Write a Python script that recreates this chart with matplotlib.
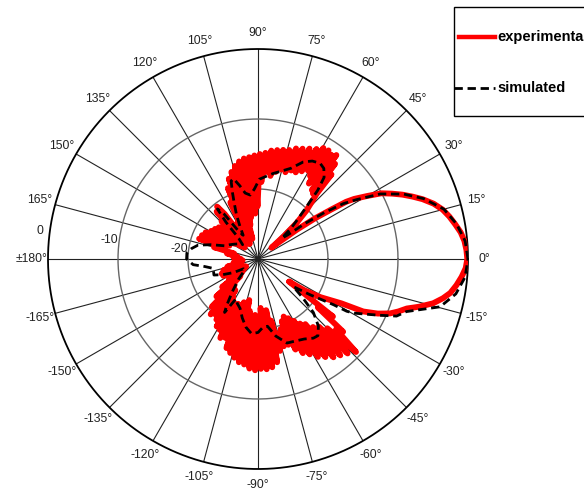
import numpy as np
import matplotlib
matplotlib.use('Agg')
import matplotlib.pyplot as plt
from matplotlib.lines import Line2D
from matplotlib.patches import Rectangle

# Diagramme de rayonnement (dB) : mesure vs simulation
sim_deg = [0, 5, 10, 15, 20, 24, 28, 31, 33, 35, 37, 39, 41, 43, 45, 47, 49, 51, 54, 57,
           61, 65, 70, 75, 80, 85, 89, 93, 97, 101, 104, 107, 109, 111, 113, 116, 119, 122,
           125, 127, 129, 131, 133, 137, 142, 148, 153, 158, 163, 167, 171, 175, 180, 185,
           188, 192, 196, 200, 204, 209, 214, 220, 226, 232, 236, 238, 241, 245, 250, 255,
           260, 265, 270, 274, 278, 283, 289, 295, 300, 305, 308, 312, 316, 319, 322, 325.5,
           328.8, 329.5, 330.5, 332.5, 335, 337.6, 340.5, 345.3, 350, 355, 360]
sim_db = [0, -0.3, -1.2, -2.5, -4.8, -7.2, -10.2, -13.5, -15.5, -18.5, -21.5, -24.5, -25.5,
          -23.5, -22, -20, -17, -15, -14, -13.7, -14, -14.7, -16.2, -17, -17.6, -18.2, -18.6,
          -20, -20.8, -20.4, -19.2, -18, -18.2, -19.8, -21.3, -23, -24.7, -26, -25, -22, -20.8,
          -23, -26, -27, -26.5, -26, -25.5, -25, -23, -21.2, -20.4, -19.8, -19.8, -20.7, -22.3,
          -23.5, -23.4, -23.3, -24.5, -26, -27.5, -27.5, -26, -24, -22, -21, -23.5, -23, -22.5,
          -21.3, -20.1, -19.3, -19.5, -20.2, -20.3, -18.7, -17.3, -17.1, -16.8, -16.2, -16.1,
          -17.1, -19, -21.5, -23.6, -21, -17.4, -15.3, -14.3, -13, -11, -8.6, -7.5, -3.1, -1.3,
          -0.3, 0]

exp_deg = [-36, -34, -31.5, -29.5, -28, -26.5, -24.5, -22.4, -20.5, -18.4, -16.5, -14.2, -12,
           -10, -7.5, -5, -2.5, 0, 2.5, 5, 7.5, 10, 12.5, 15, 17.5, 20, 22, 24, 26, 28, 30, 32,
           33, 34, 35.5, 37, 38.5, 40, 41.5, 43, 45, 46.5, 48, 49, 50, 51, 52, 53, 54, 55, 56,
           57, 58, 59.5, 60.5, 62, 63.5, 65, 66.5, 68, 69.5, 71, 72.5, 74, 75.5, 77, 78.5, 80,
           81.5, 83, 84.5, 86, 87.5, 89, 90.5, 92, 93.5, 95, 96.5, 98, 99.5, 101, 102.5, 104,
           105.5, 107, 108.5, 110, 111.5, 113, 114.5, 116, 117.5, 119, 121, 123, 125, 126.5,
           128, 129.5, 131, 132.5, 134, 135.5, 137, 139, 141, 143, 145, 147, 149, 151, 153, 155,
           157, 159, 161, 163, 165, 167, 170, 173, 176, 179, 182, 185, 188, 191, 194, 196, 198,
           200, 202, 204, 206, 208, 210, 212, 214, 216, 218, 220, 222, 224, 226, 228, 229.5,
           231, 232.5, 234, 235.5, 237, 238.5, 240, 241.5, 243, 244.5, 246, 247.5, 249, 250.5,
           252, 253.5, 255, 256.5, 258, 259.5, 261, 262.5, 264, 265.5, 267, 268.5, 270, 271.5,
           273, 274.5, 276, 277.5, 279, 280.5, 282, 283.5, 285, 286.5, 288, 289.5, 291, 292.5,
           294, 295.5, 297, 298.5, 300, 301.5, 303, 304.5, 306, 307.5, 309, 310.5, 312, 313.5,
           315, 316.5, 318, 319.5, 321, 322.5, 324]
exp_db = [-24.5, -22, -19.6, -18, -16.5, -13.2, -11.2, -9.6, -8.6, -7.6, -6.0, -4.2, -3.0,
          -2.1, -1.4, -0.8, -0.3, -0.1, -0.2, -0.4, -0.8, -1.4, -2.0, -2.7, -3.7, -5.0, -6.2,
          -7.4, -8.7, -10.0, -12.0, -13.8, -15, -17.3, -20, -23, -26, -27.5, -25, -22.5, -20.2,
          -19, -17.5, -14, -17.8, -12.5, -17.5, -11.4, -16.5, -11.8, -17, -11.5, -16, -11.6,
          -15.5, -12.2, -16, -12.6, -16.5, -13, -16.5, -13.3, -17, -13.8, -16.8, -14, -17.3,
          -14.2, -18, -14.4, -17.5, -14.8, -19, -15, -22.5, -15.2, -23.5, -15.4, -21, -15.5,
          -24, -15.8, -25, -16.3, -27, -17, -25.5, -17.8, -26.5, -19, -27, -21, -27.5, -24,
          -27.5, -25.5, -27, -22, -20.5, -25.5, -21, -26.5, -22.5, -27, -23.5, -27.5, -22.8,
          -27, -22.5, -26, -22.2, -25, -21.6, -25.5, -21.3, -24.5, -21.1, -25, -23.5, -26.5,
          -25.5, -27, -26.5, -27.5, -26.8, -27.8, -26.5, -27.5, -25.5, -27.5, -24.8, -27.5,
          -24.4, -27.5, -24.5, -27.8, -25.5, -28, -25, -27.5, -23.5, -27, -22, -26.5, -20.5,
          -25, -19.6, -24, -20, -24.5, -19.5, -23.5, -18.7, -23, -18.5, -22.5, -17.5, -23,
          -17.8, -22, -16.5, -23.5, -16, -22, -15.5, -24, -15, -22.5, -14.8, -21.5, -14.3, -22,
          -14.1, -21.5, -14.3, -23, -14.2, -21.8, -14.4, -22.6, -15, -21, -16.5, -19, -17,
          -19.5, -17, -20.5, -16, -21, -15.1, -20.5, -14.5, -19.8, -13.6, -19, -13, -18.5,
          -12.3, -17.5, -11.9, -17, -11.4, -16, -10.7, -15, -14, -19, -16.5, -24.5]

theta_ticks = np.arange(0, 360, 15)
rings = [-20, -10]
r_min, r_max = -30, 0

fig = plt.figure(figsize=(5.84, 4.96), dpi=100)
ax = fig.add_axes([48 / 584, 27 / 496, 420 / 584, 420 / 496], projection='polar')
ax.set_ylim(r_min, r_max)
ax.grid(False)
ax.set_xticks([])
ax.set_yticks([])
ax.spines['polar'].set_visible(False)

# grille : rayons tous les 15 degres, cercles a -20 / -10 dB et contour
for t in theta_ticks:
    ax.plot([np.radians(t)] * 2, [r_min, r_max], color='#222222', lw=0.8, zorder=1)
circ = np.linspace(0, 2 * np.pi, 400)
for r in rings:
    ax.plot(circ, np.full_like(circ, r), color='#666666', lw=1.0, zorder=1)
ax.plot(circ, np.full_like(circ, r_max), color='black', lw=1.3, zorder=1, clip_on=False)

# etiquettes d'angle
for t in theta_ticks:
    if t == 180:
        lab = '\u00b1180\u00b0'
    elif t > 180:
        lab = '%d\u00b0' % (t - 360)
    else:
        lab = '%d\u00b0' % t
    ax.text(np.radians(t), 2.3, lab, ha='center', va='center', fontsize=8.8,
            color='#222222', family='Liberation Sans')

# etiquettes radiales
for r in rings + [r_max]:
    ax.text(np.radians(172.7), r + 1.35, '%d' % r, ha='center', va='center', fontsize=8.8,
            color='#222222', family='Liberation Sans')

# courbes
ax.plot(np.radians(exp_deg), exp_db, color='#ff0000', lw=4.2,
        solid_joinstyle='round', solid_capstyle='round', zorder=3)
ax.plot(np.radians(sim_deg), sim_db, color='black', lw=2.0, dashes=(3, 1.7), zorder=4)

# legende (boite coupee a droite comme dans l'original)
fig.add_artist(Rectangle((454 / 584, 1 - 116 / 496), 0.3, 109 / 496, transform=fig.transFigure,
                         facecolor='white', edgecolor='black', lw=1.0))
fig.add_artist(Line2D([459 / 584, 495 / 584], [1 - 37 / 496] * 2, transform=fig.transFigure,
                      color='#ff0000', lw=3.2))
fig.add_artist(Line2D([454 / 584, 495 / 584], [1 - 88 / 496] * 2, transform=fig.transFigure,
                      color='black', lw=2.0, dashes=(3, 1.7)))
fig.text(497 / 584, 1 - 37 / 496, 'experimental', ha='left', va='center', fontsize=10.5,
         fontweight='bold', family='Liberation Sans')
fig.text(497 / 584, 1 - 88 / 496, 'simulated', ha='left', va='center', fontsize=10.5,
         fontweight='bold', family='Liberation Sans')

fig.savefig('out.png', dpi=100)
plt.close(fig)
